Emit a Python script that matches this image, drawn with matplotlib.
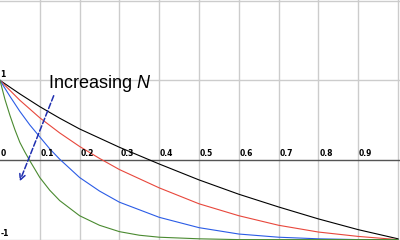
import numpy as np
import matplotlib
matplotlib.use("Agg")
import matplotlib.pyplot as plt

plt.rcParams['mathtext.fontset'] = 'custom'
plt.rcParams['mathtext.rm'] = 'Liberation Sans'
plt.rcParams['mathtext.it'] = 'Liberation Sans:italic'

# curves (x in 0..1, y in -1..1)
x_black = [0, 0.05, 0.1, 0.15, 0.2, 0.3, 0.4, 0.5, 0.6, 0.7, 0.8, 0.9, 1.0]
y_black = [1.0, 0.83, 0.67, 0.525, 0.39, 0.16, -0.05, -0.25, -0.43, -0.59,
           -0.74, -0.875, -0.99]

x_red = [0, 0.05, 0.1, 0.15, 0.2, 0.25, 0.3, 0.4, 0.5, 0.6, 0.7, 0.8, 0.9, 1.0]
y_red = [1.0, 0.75, 0.53, 0.34, 0.17, 0.02, -0.12, -0.35, -0.55, -0.7, -0.82,
         -0.905, -0.96, -1.0]

x_blue = [0, 0.025, 0.05, 0.075, 0.1, 0.125, 0.15, 0.2, 0.25, 0.3, 0.4, 0.5,
          0.6, 0.7, 0.8, 0.9, 1.0]
y_blue = [1.0, 0.8, 0.61, 0.44, 0.29, 0.14, 0.01, -0.22, -0.39, -0.53, -0.72,
          -0.85, -0.93, -0.97, -0.99, -1.0, -1.0]

x_green = [0, 0.0125, 0.025, 0.0375, 0.05, 0.0625, 0.075, 0.1, 0.125, 0.15,
           0.2, 0.25, 0.3, 0.35, 0.4, 0.5, 0.6, 1.0]
y_green = [1.0, 0.76, 0.56, 0.38, 0.22, 0.1, -0.01, -0.22, -0.38, -0.51,
           -0.7, -0.82, -0.9, -0.945, -0.97, -0.99, -1.0, -1.0]

xticks = [0, 0.1, 0.2, 0.3, 0.4, 0.5, 0.6, 0.7, 0.8, 0.9]
xtick_labels = ['0', '0.1', '0.2', '0.3', '0.4', '0.5', '0.6', '0.7', '0.8', '0.9']
ytick_labels = {1: '1', -1: '-1'}

fig = plt.figure(figsize=(4, 2.4), dpi=100)
ax = fig.add_axes([0, 0, 1, 1])
ax.axis('off')
ax.set_xlim(0, 1.005)
ax.set_ylim(-1.005, 2.01)

grid = dict(color='#cccccc', lw=1.0, zorder=0)
for xv in np.arange(0.1, 1.01, 0.1):
    ax.axvline(xv, **grid)
for yv in [2, 1, -1]:
    ax.axhline(yv, **grid)
ax.axhline(0, color='#555555', lw=1.0, zorder=1)

ax.plot(x_black, y_black, color='black', lw=0.8)
ax.plot(x_red, y_red, color='#e8473c', lw=0.8)
ax.plot(x_blue, y_blue, color='#2b5ce6', lw=0.8)
ax.plot(x_green, y_green, color='#4a8a30', lw=0.8)

for xv, lab in zip(xticks, xtick_labels):
    ax.text(xv + 0.002, 0.02, lab, fontsize=5.5, fontweight='bold',
            ha='left', va='bottom')
for yv, lab in ytick_labels.items():
    ax.text(0.001, yv + 0.02, lab, fontsize=5.5, fontweight='bold',
            ha='left', va='bottom')

ax.annotate('', xy=(0.047, -0.3), xytext=(0.1375, 0.84),
            arrowprops=dict(arrowstyle='->', color='#1f2fb0', lw=1.1,
                            linestyle='--', mutation_scale=10))
ax.text(0.12, 0.91, r'Increasing $N$', fontsize=13,
        family='Liberation Sans', ha='left', va='baseline')

fig.savefig('out.png', dpi=100)
